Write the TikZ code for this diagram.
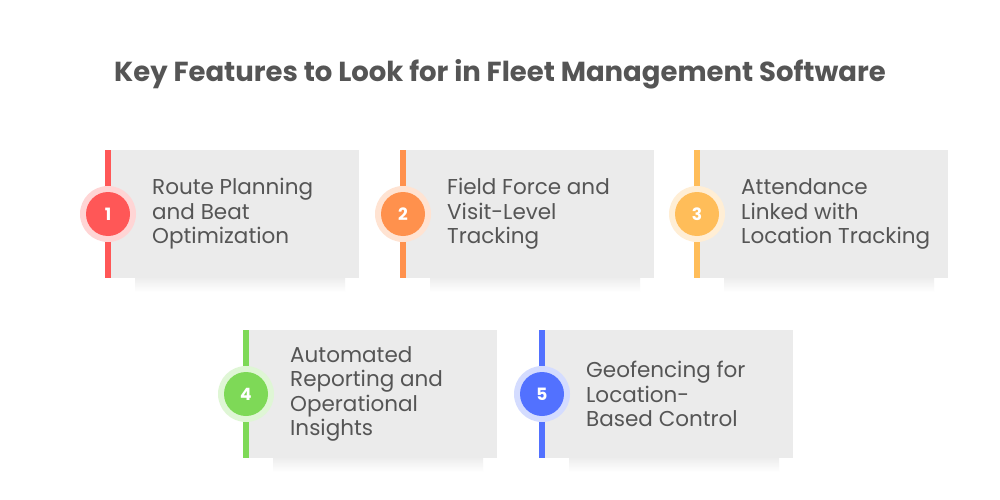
\documentclass[tikz,border=0pt]{standalone}
\usepackage{fontspec}
\setmainfont{Poppins}
\usetikzlibrary{calc}
\definecolor{cA}{HTML}{FF5757}
\definecolor{cB}{HTML}{FF914D}
\definecolor{cC}{HTML}{FFBD59}
\definecolor{cD}{HTML}{7ED957}
\definecolor{cE}{HTML}{5271FF}
\definecolor{card}{HTML}{EBEBEB}
\definecolor{txt}{HTML}{555555}
\begin{document}
\begin{tikzpicture}[x=1pt,y=-1pt,
  cardbox/.style={fill=card,draw=none},
  lbl/.style={anchor=west,align=left,text=txt,inner sep=0pt,font=\fontsize{21.5}{24.5}\selectfont},
  num/.style={circle,minimum size=44pt,inner sep=0pt,text=white,font=\bfseries\fontsize{17}{17}\selectfont}]
\useasboundingbox[fill=white] (0,0) rectangle (1000,500);
\node[text=txt,font=\bfseries\fontsize{27.5}{30}\selectfont] (title) at (500,74) {Key Features to Look for in Fleet Management Software};
\foreach \x/\y/\c/\n/\t in {
 105/150/cA/1/{Route Planning\\and Beat\\Optimization},
 400/150/cB/2/{Field Force and\\Visit-Level\\Tracking},
 694/150/cC/3/{Attendance\\Linked with\\Location Tracking},
 243/330/cD/4/{Automated\\Reporting and\\Operational\\Insights},
 539/330/cE/5/{Geofencing for\\Location-\\Based Control}}{
  \shade[top color=black!7,bottom color=white] (\x+30,\y+128) rectangle (\x+240,\y+142);
  \fill[cardbox] (\x+6,\y) rectangle (\x+254,\y+128);
  \fill[\c] (\x,\y) rectangle (\x+6,\y+128);
  \fill[\c!25] (\x+3,\y+64) circle (28);
  \node[num,fill=\c] (n\n) at (\x+3,\y+64) {\n};
  \node[lbl] (t\n) at (\x+47,\y+64) {\t};
}
\end{tikzpicture}
\end{document}
